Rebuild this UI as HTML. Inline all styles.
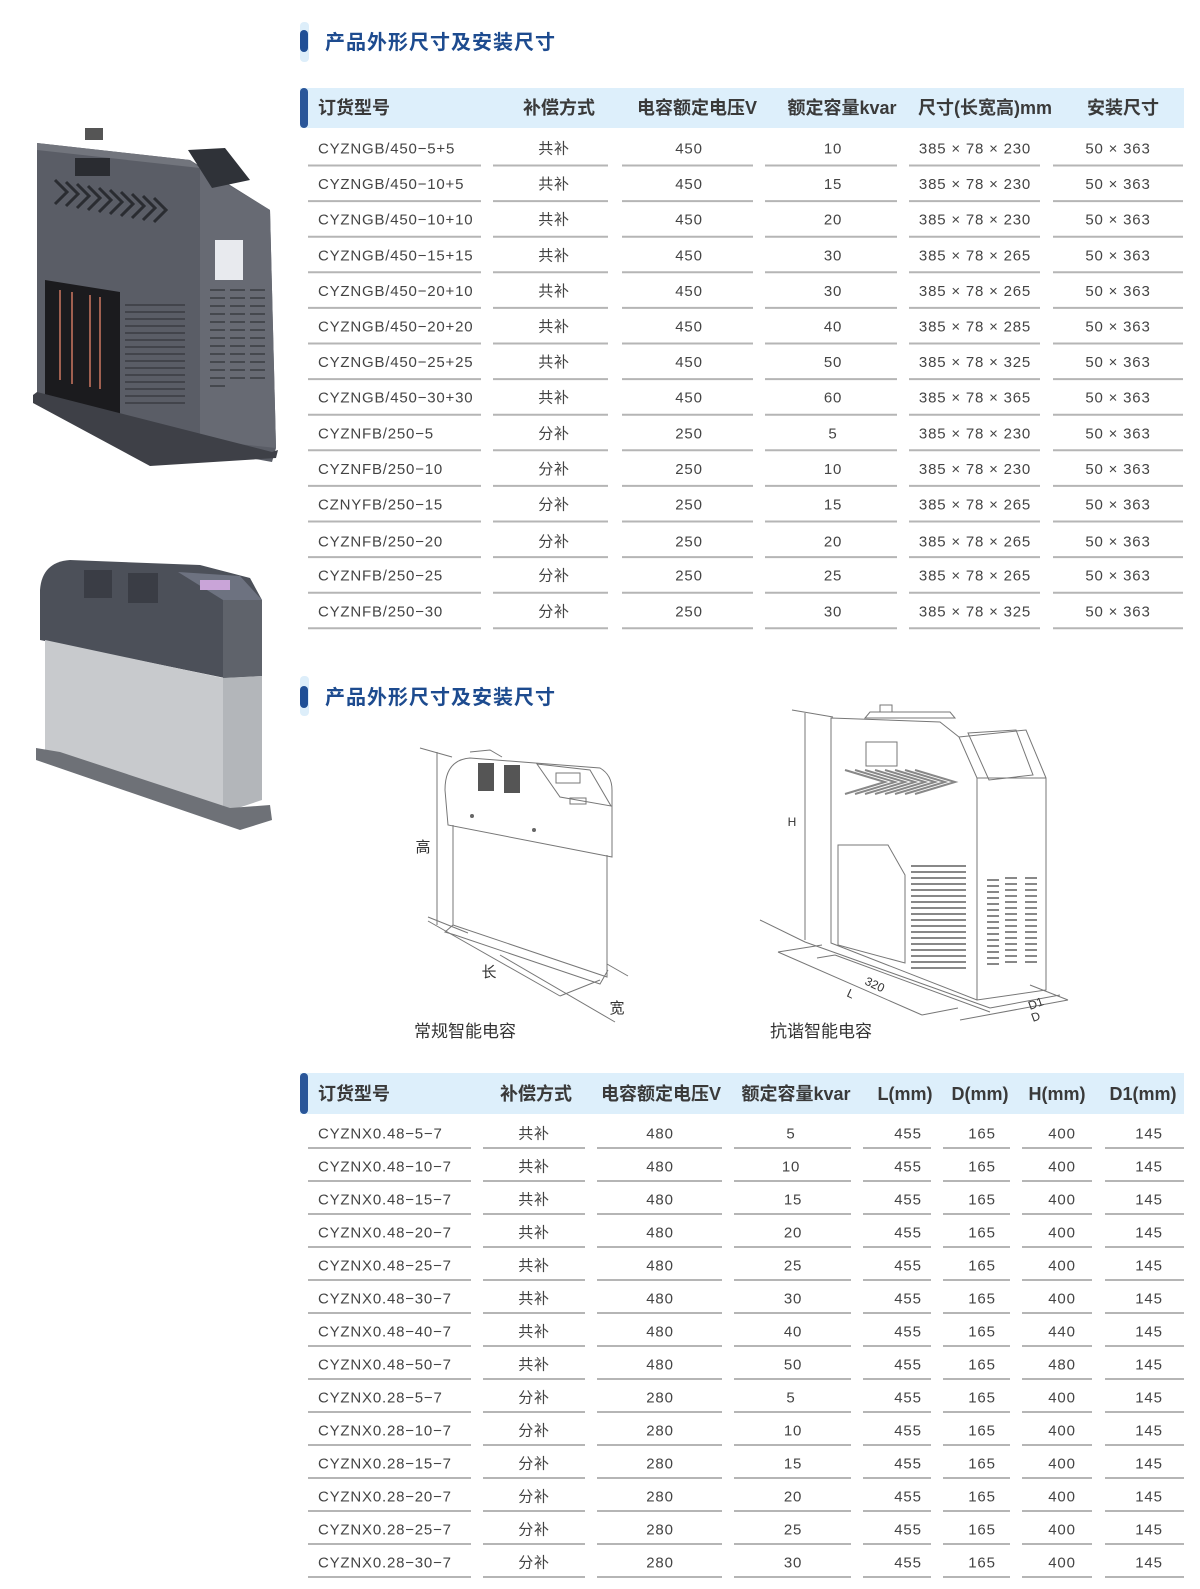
<!DOCTYPE html>
<html><head><meta charset="utf-8"><style>
html,body{margin:0;padding:0;background:#fff;}
svg{display:block}
text{font-family:"Liberation Sans","Noto Sans CJK SC",sans-serif;}
.h{font-size:18px;font-weight:bold;fill:#3a3a3a;}
.t{font-size:20px;font-weight:bold;fill:#1d4b8f;letter-spacing:1px}
.d{font-size:15px;fill:#444;letter-spacing:0.8px}
.c{text-anchor:middle}
.ln{stroke:#b5b5b5;stroke-width:2}
.dr{fill:none;stroke:#777;stroke-width:1}
.lb{font-size:15px;fill:#333}
</style></head><body>
<svg width="1200" height="1589" viewBox="0 0 1200 1589" xmlns="http://www.w3.org/2000/svg">
<rect x="300" y="22" width="9" height="40" rx="4" fill="#ddeefa"/>
<rect x="300" y="30" width="8" height="22" rx="4" fill="#1f4f96"/>
<text x="325" y="49" class="t">产品外形尺寸及安装尺寸</text>
<rect x="300" y="88" width="884" height="40" fill="#ddeffb"/>
<rect x="300" y="88" width="8" height="40" rx="4" fill="#2a5699"/>
<g class="h">
<text x="318" y="114">订货型号</text>
<text x="559" y="114" class="c">补偿方式</text>
<text x="697" y="114" class="c">电容额定电压V</text>
<text x="842" y="114" class="c">额定容量kvar</text>
<text x="985" y="114" class="c">尺寸(长宽高)mm</text>
<text x="1123" y="114" class="c">安装尺寸</text>
</g>
<g class="d">
<g transform="translate(0,148)"><text x="318" y="5.5">CYZNGB/450−5+5</text><text x="554" y="5.5" class="c">共补</text><text x="689" y="5.5" class="c">450</text><text x="833" y="5.5" class="c">10</text><text x="975" y="5.5" class="c">385 × 78 × 230</text><text x="1118" y="5.5" class="c">50 × 363</text></g>
<g transform="translate(0,183.6)"><text x="318" y="5.5">CYZNGB/450−10+5</text><text x="554" y="5.5" class="c">共补</text><text x="689" y="5.5" class="c">450</text><text x="833" y="5.5" class="c">15</text><text x="975" y="5.5" class="c">385 × 78 × 230</text><text x="1118" y="5.5" class="c">50 × 363</text></g>
<g transform="translate(0,219.2)"><text x="318" y="5.5">CYZNGB/450−10+10</text><text x="554" y="5.5" class="c">共补</text><text x="689" y="5.5" class="c">450</text><text x="833" y="5.5" class="c">20</text><text x="975" y="5.5" class="c">385 × 78 × 230</text><text x="1118" y="5.5" class="c">50 × 363</text></g>
<g transform="translate(0,254.8)"><text x="318" y="5.5">CYZNGB/450−15+15</text><text x="554" y="5.5" class="c">共补</text><text x="689" y="5.5" class="c">450</text><text x="833" y="5.5" class="c">30</text><text x="975" y="5.5" class="c">385 × 78 × 265</text><text x="1118" y="5.5" class="c">50 × 363</text></g>
<g transform="translate(0,290.4)"><text x="318" y="5.5">CYZNGB/450−20+10</text><text x="554" y="5.5" class="c">共补</text><text x="689" y="5.5" class="c">450</text><text x="833" y="5.5" class="c">30</text><text x="975" y="5.5" class="c">385 × 78 × 265</text><text x="1118" y="5.5" class="c">50 × 363</text></g>
<g transform="translate(0,326)"><text x="318" y="5.5">CYZNGB/450−20+20</text><text x="554" y="5.5" class="c">共补</text><text x="689" y="5.5" class="c">450</text><text x="833" y="5.5" class="c">40</text><text x="975" y="5.5" class="c">385 × 78 × 285</text><text x="1118" y="5.5" class="c">50 × 363</text></g>
<g transform="translate(0,361.6)"><text x="318" y="5.5">CYZNGB/450−25+25</text><text x="554" y="5.5" class="c">共补</text><text x="689" y="5.5" class="c">450</text><text x="833" y="5.5" class="c">50</text><text x="975" y="5.5" class="c">385 × 78 × 325</text><text x="1118" y="5.5" class="c">50 × 363</text></g>
<g transform="translate(0,397.2)"><text x="318" y="5.5">CYZNGB/450−30+30</text><text x="554" y="5.5" class="c">共补</text><text x="689" y="5.5" class="c">450</text><text x="833" y="5.5" class="c">60</text><text x="975" y="5.5" class="c">385 × 78 × 365</text><text x="1118" y="5.5" class="c">50 × 363</text></g>
<g transform="translate(0,432.8)"><text x="318" y="5.5">CYZNFB/250−5</text><text x="554" y="5.5" class="c">分补</text><text x="689" y="5.5" class="c">250</text><text x="833" y="5.5" class="c">5</text><text x="975" y="5.5" class="c">385 × 78 × 230</text><text x="1118" y="5.5" class="c">50 × 363</text></g>
<g transform="translate(0,468.4)"><text x="318" y="5.5">CYZNFB/250−10</text><text x="554" y="5.5" class="c">分补</text><text x="689" y="5.5" class="c">250</text><text x="833" y="5.5" class="c">10</text><text x="975" y="5.5" class="c">385 × 78 × 230</text><text x="1118" y="5.5" class="c">50 × 363</text></g>
<g transform="translate(0,504)"><text x="318" y="5.5">CZNYFB/250−15</text><text x="554" y="5.5" class="c">分补</text><text x="689" y="5.5" class="c">250</text><text x="833" y="5.5" class="c">15</text><text x="975" y="5.5" class="c">385 × 78 × 265</text><text x="1118" y="5.5" class="c">50 × 363</text></g>
<g transform="translate(0,541)"><text x="318" y="5.5">CYZNFB/250−20</text><text x="554" y="5.5" class="c">分补</text><text x="689" y="5.5" class="c">250</text><text x="833" y="5.5" class="c">20</text><text x="975" y="5.5" class="c">385 × 78 × 265</text><text x="1118" y="5.5" class="c">50 × 363</text></g>
<g transform="translate(0,575.2)"><text x="318" y="5.5">CYZNFB/250−25</text><text x="554" y="5.5" class="c">分补</text><text x="689" y="5.5" class="c">250</text><text x="833" y="5.5" class="c">25</text><text x="975" y="5.5" class="c">385 × 78 × 265</text><text x="1118" y="5.5" class="c">50 × 363</text></g>
<g transform="translate(0,610.8)"><text x="318" y="5.5">CYZNFB/250−30</text><text x="554" y="5.5" class="c">分补</text><text x="689" y="5.5" class="c">250</text><text x="833" y="5.5" class="c">30</text><text x="975" y="5.5" class="c">385 × 78 × 325</text><text x="1118" y="5.5" class="c">50 × 363</text></g>
</g>
<g>
<path class="ln" d="M308 0H481M493 0H608M622 0H753M765 0H897M909 0H1040M1053 0H1183" transform="translate(0,165.5)"/>
<path class="ln" d="M308 0H481M493 0H608M622 0H753M765 0H897M909 0H1040M1053 0H1183" transform="translate(0,201.1)"/>
<path class="ln" d="M308 0H481M493 0H608M622 0H753M765 0H897M909 0H1040M1053 0H1183" transform="translate(0,236.7)"/>
<path class="ln" d="M308 0H481M493 0H608M622 0H753M765 0H897M909 0H1040M1053 0H1183" transform="translate(0,272.3)"/>
<path class="ln" d="M308 0H481M493 0H608M622 0H753M765 0H897M909 0H1040M1053 0H1183" transform="translate(0,307.9)"/>
<path class="ln" d="M308 0H481M493 0H608M622 0H753M765 0H897M909 0H1040M1053 0H1183" transform="translate(0,343.5)"/>
<path class="ln" d="M308 0H481M493 0H608M622 0H753M765 0H897M909 0H1040M1053 0H1183" transform="translate(0,379.1)"/>
<path class="ln" d="M308 0H481M493 0H608M622 0H753M765 0H897M909 0H1040M1053 0H1183" transform="translate(0,414.7)"/>
<path class="ln" d="M308 0H481M493 0H608M622 0H753M765 0H897M909 0H1040M1053 0H1183" transform="translate(0,450.3)"/>
<path class="ln" d="M308 0H481M493 0H608M622 0H753M765 0H897M909 0H1040M1053 0H1183" transform="translate(0,485.9)"/>
<path class="ln" d="M308 0H481M493 0H608M622 0H753M765 0H897M909 0H1040M1053 0H1183" transform="translate(0,521.5)"/>
<path class="ln" d="M308 0H481M493 0H608M622 0H753M765 0H897M909 0H1040M1053 0H1183" transform="translate(0,557.1)"/>
<path class="ln" d="M308 0H481M493 0H608M622 0H753M765 0H897M909 0H1040M1053 0H1183" transform="translate(0,592.7)"/>
<path class="ln" d="M308 0H481M493 0H608M622 0H753M765 0H897M909 0H1040M1053 0H1183" transform="translate(0,628.3)"/>
</g>

<rect x="300" y="676" width="9" height="40" rx="4" fill="#ddeefa"/>
<rect x="300" y="686" width="8" height="22" rx="4" fill="#1f4f96"/>
<text x="325" y="704" class="t">产品外形尺寸及安装尺寸</text>

<!-- Product photo 1 -->
<g>
<rect x="85" y="128" width="18" height="12" fill="#555"/>
<polygon points="37,143 190,160 270,210 276,448 272,462 150,440 37,400" fill="#5a5d66"/>
<polygon points="200,168 270,210 276,448 200,440" fill="#676a73"/>
<polygon points="37,143 190,160 200,168 37,150" fill="#72757d"/>
<polygon points="188,150 225,148 250,180 212,188" fill="#2f3238"/>
<rect x="75" y="158" width="35" height="18" fill="#2a2c31"/>
<g stroke="#2a2c31" stroke-width="3" fill="none">
<path d="M55 180l12 12-12 12M66 182l12 12-12 12M77 184l12 12-12 12M88 186l12 12-12 12M99 188l12 12-12 12M110 190l12 12-12 12M121 192l12 12-12 12M132 194l12 12-12 12M143 196l12 12-12 12M154 198l12 12-12 12"/>
</g>
<rect x="215" y="240" width="28" height="40" fill="#e8eaee"/>
<polygon points="45,280 120,292 120,420 45,395" fill="#1b1b1e"/>
<g stroke="#a06050" stroke-width="2"><path d="M60 290v90M72 292v92M90 295v92M100 297v92"/></g>
<g stroke="#3a3c42" stroke-width="1.5"><path d="M125 305h60M125 312h60M125 319h60M125 326h60M125 333h60M125 340h60M125 347h60M125 354h60M125 361h60M125 368h60M125 375h60M125 382h60M125 389h60M125 396h60M125 403h60"/><path d="M210 290h15M210 298h15M210 306h15M210 314h15M210 322h15M210 330h15M210 338h15M210 346h15M210 354h15M210 362h15M210 370h15M210 378h15M210 386h15M230 290h15M230 298h15M230 306h15M230 314h15M230 322h15M230 330h15M230 338h15M230 346h15M230 354h15M230 362h15M230 370h15M230 378h15M250 290h15M250 298h15M250 306h15M250 314h15M250 322h15M250 330h15M250 338h15M250 346h15M250 354h15M250 362h15M250 370h15M250 378h15"/></g>
<polygon points="33,395 37,392 272,452 278,450 276,458 150,466 33,403" fill="#3e4047"/>
</g>

<!-- Product photo 2 -->
<g>
<path d="M40 590 Q42 562 70 560 L200 565 L250 578 L262 600 L262 676 L225 678 L40 640Z" fill="#4c5059"/>
<polygon points="223,600 262,600 262,676 223,678" fill="#5f636b"/>
<polygon points="178,572 240,576 262,600 223,600" fill="#6d7280"/>
<rect x="200" y="580" width="30" height="10" fill="#c9a4d8"/>
<polygon points="45,640 223,678 223,813 45,757" fill="#c8cacd"/>
<polygon points="223,678 262,676 262,800 223,813" fill="#b3b6ba"/>
<rect x="84" y="570" width="28" height="28" fill="#3a3d45"/>
<rect x="128" y="573" width="30" height="30" fill="#3a3d45"/>
<polygon points="36,748 60,752 230,808 270,805 272,820 240,830 205,818 36,760" fill="#6e7177"/>
</g>

<!-- Left drawing -->
<g class="dr">
<path d="M420 748 L452 757"/>
<path d="M437 752 V925"/>
<path d="M428 917 L468 933 M428 921 L560 996 M500 955 L615 1022 M560 996 L600 980 M607 964 L628 976"/>
<path d="M445 790 Q445 760 470 758 L600 768 Q612 775 612 790 V857 L448 825 Z"/>
<path d="M453 825 V925 L607 977 V855"/>
<path d="M453 925 L445 932 L455 935 L600 984 L608 970"/>
<path d="M537 764 L590 770 L611 806 L560 797 Z"/>
<rect x="556" y="773" width="24" height="10"/>
<rect x="570" y="798" width="16" height="6"/>
<path d="M470 752 L490 750 L502 757"/>
</g>
<g fill="#555"><rect x="478" y="763" width="16" height="28"/><rect x="504" y="765" width="16" height="28"/></g>
<circle cx="472" cy="816" r="2" fill="#666"/><circle cx="534" cy="830" r="2" fill="#666"/>
<text x="423" y="852" class="lb" text-anchor="middle">高</text>
<text x="489" y="977" class="lb" text-anchor="middle">长</text>
<text x="617" y="1013" class="lb" text-anchor="middle">宽</text>
<text x="414" y="1037" font-size="17" fill="#333">常规智能电容</text>

<!-- Right drawing -->
<g class="dr">
<path d="M792 710 L833 717 M805 713 V940"/>
<path d="M831 718 L940 722 L959 737 L1026 730 L1046 778 V990 L977 1000 L831 943 Z"/>
<path d="M959 737 L977 778 V1000 M977 778 L1046 778"/>
<path d="M870 712 L950 712 L955 718 L865 718 Z M880 705 h12 v7 h-12z"/>
<rect x="866" y="742" width="31" height="24"/>
<path d="M968 733 L1016 730 L1033 775 L989 780 Z"/>
<path d="M838 845 L888 845 L905 875 V963 L838 945 Z"/>
<path d="M778 952 L822 945 M778 952 L922 1015 M817 958 L835 955 M835 955 L990 1012 M922 1015 L958 1008"/>
<path d="M760 920 L805 942 L990 1008 M990 1008 L1060 995 M960 1020 L1068 1000 M1030 985 L1068 1000"/>
</g>
<g stroke="#888" stroke-width="2" fill="none">
<path d="M845 770l40 12-40 12M855 770l40 12-40 12M865 770l40 12-40 12M875 770l40 12-40 12M885 770l40 12-40 12M895 770l40 12-40 12M905 770l40 12-40 12M915 770l40 12-40 12"/>
</g>
<g stroke="#888" stroke-width="2">
<path d="M911 866h55M911 872h55M911 878h55M911 884h55M911 890h55M911 896h55M911 902h55M911 908h55M911 914h55M911 920h55M911 926h55M911 932h55M911 938h55M911 944h55M911 950h55M911 956h55M911 962h55M911 968h55"/>
<path d="M987 880h12M987 886h12M987 892h12M987 898h12M987 904h12M987 910h12M987 916h12M987 922h12M987 928h12M987 934h12M987 940h12M987 946h12M987 952h12M987 958h12M987 964h12M1005 878h12M1005 884h12M1005 890h12M1005 896h12M1005 902h12M1005 908h12M1005 914h12M1005 920h12M1005 926h12M1005 932h12M1005 938h12M1005 944h12M1005 950h12M1005 956h12M1005 962h12M1025 878h12M1025 884h12M1025 890h12M1025 896h12M1025 902h12M1025 908h12M1025 914h12M1025 920h12M1025 926h12M1025 932h12M1025 938h12M1025 944h12M1025 950h12M1025 956h12M1025 962h12"/>
</g>
<text x="792" y="826" font-size="12" fill="#333" text-anchor="middle">H</text>
<text x="864" y="984" font-size="12" fill="#333" transform="rotate(25 864 984)">320</text>
<text x="846" y="996" font-size="12" fill="#333" transform="rotate(25 846 996)">L</text>
<text x="1030" y="1010" font-size="12" fill="#333" transform="rotate(-20 1030 1010)">D1</text>
<text x="1033" y="1022" font-size="12" fill="#333" transform="rotate(-20 1033 1022)">D</text>
<text x="770" y="1037" font-size="17" fill="#333">抗谐智能电容</text>

<!-- Table 2 -->
<rect x="300" y="1073" width="884" height="41" fill="#ddeffb"/>
<rect x="300" y="1073" width="8" height="41" rx="4" fill="#2a5699"/>
<g class="h">
<text x="318" y="1100">订货型号</text>
<text x="536" y="1100" class="c">补偿方式</text>
<text x="661" y="1100" class="c">电容额定电压V</text>
<text x="796" y="1100" class="c">额定容量kvar</text>
<text x="905" y="1100" class="c">L(mm)</text>
<text x="980" y="1100" class="c">D(mm)</text>
<text x="1057" y="1100" class="c">H(mm)</text>
<text x="1143" y="1100" class="c">D1(mm)</text>
</g>
<g class="d">
<g transform="translate(0,1133)"><text x="318" y="5.5">CYZNX0.48−5−7</text><text x="534" y="5.5" class="c">共补</text><text x="660" y="5.5" class="c">480</text><text x="791" y="5.5" class="c">5</text><text x="908" y="5.5" class="c">455</text><text x="982" y="5.5" class="c">165</text><text x="1062" y="5.5" class="c">400</text><text x="1149" y="5.5" class="c">145</text></g>
<g transform="translate(0,1166)"><text x="318" y="5.5">CYZNX0.48−10−7</text><text x="534" y="5.5" class="c">共补</text><text x="660" y="5.5" class="c">480</text><text x="791" y="5.5" class="c">10</text><text x="908" y="5.5" class="c">455</text><text x="982" y="5.5" class="c">165</text><text x="1062" y="5.5" class="c">400</text><text x="1149" y="5.5" class="c">145</text></g>
<g transform="translate(0,1199)"><text x="318" y="5.5">CYZNX0.48−15−7</text><text x="534" y="5.5" class="c">共补</text><text x="660" y="5.5" class="c">480</text><text x="793" y="5.5" class="c">15</text><text x="908" y="5.5" class="c">455</text><text x="982" y="5.5" class="c">165</text><text x="1062" y="5.5" class="c">400</text><text x="1149" y="5.5" class="c">145</text></g>
<g transform="translate(0,1232)"><text x="318" y="5.5">CYZNX0.48−20−7</text><text x="534" y="5.5" class="c">共补</text><text x="660" y="5.5" class="c">480</text><text x="793" y="5.5" class="c">20</text><text x="908" y="5.5" class="c">455</text><text x="982" y="5.5" class="c">165</text><text x="1062" y="5.5" class="c">400</text><text x="1149" y="5.5" class="c">145</text></g>
<g transform="translate(0,1265)"><text x="318" y="5.5">CYZNX0.48−25−7</text><text x="534" y="5.5" class="c">共补</text><text x="660" y="5.5" class="c">480</text><text x="793" y="5.5" class="c">25</text><text x="908" y="5.5" class="c">455</text><text x="982" y="5.5" class="c">165</text><text x="1062" y="5.5" class="c">400</text><text x="1149" y="5.5" class="c">145</text></g>
<g transform="translate(0,1298)"><text x="318" y="5.5">CYZNX0.48−30−7</text><text x="534" y="5.5" class="c">共补</text><text x="660" y="5.5" class="c">480</text><text x="793" y="5.5" class="c">30</text><text x="908" y="5.5" class="c">455</text><text x="982" y="5.5" class="c">165</text><text x="1062" y="5.5" class="c">400</text><text x="1149" y="5.5" class="c">145</text></g>
<g transform="translate(0,1331)"><text x="318" y="5.5">CYZNX0.48−40−7</text><text x="534" y="5.5" class="c">共补</text><text x="660" y="5.5" class="c">480</text><text x="793" y="5.5" class="c">40</text><text x="908" y="5.5" class="c">455</text><text x="982" y="5.5" class="c">165</text><text x="1062" y="5.5" class="c">440</text><text x="1149" y="5.5" class="c">145</text></g>
<g transform="translate(0,1364)"><text x="318" y="5.5">CYZNX0.48−50−7</text><text x="534" y="5.5" class="c">共补</text><text x="660" y="5.5" class="c">480</text><text x="793" y="5.5" class="c">50</text><text x="908" y="5.5" class="c">455</text><text x="982" y="5.5" class="c">165</text><text x="1062" y="5.5" class="c">480</text><text x="1149" y="5.5" class="c">145</text></g>
<g transform="translate(0,1397)"><text x="318" y="5.5">CYZNX0.28−5−7</text><text x="534" y="5.5" class="c">分补</text><text x="660" y="5.5" class="c">280</text><text x="791" y="5.5" class="c">5</text><text x="908" y="5.5" class="c">455</text><text x="982" y="5.5" class="c">165</text><text x="1062" y="5.5" class="c">400</text><text x="1149" y="5.5" class="c">145</text></g>
<g transform="translate(0,1430)"><text x="318" y="5.5">CYZNX0.28−10−7</text><text x="534" y="5.5" class="c">分补</text><text x="660" y="5.5" class="c">280</text><text x="793" y="5.5" class="c">10</text><text x="908" y="5.5" class="c">455</text><text x="982" y="5.5" class="c">165</text><text x="1062" y="5.5" class="c">400</text><text x="1149" y="5.5" class="c">145</text></g>
<g transform="translate(0,1463)"><text x="318" y="5.5">CYZNX0.28−15−7</text><text x="534" y="5.5" class="c">分补</text><text x="660" y="5.5" class="c">280</text><text x="793" y="5.5" class="c">15</text><text x="908" y="5.5" class="c">455</text><text x="982" y="5.5" class="c">165</text><text x="1062" y="5.5" class="c">400</text><text x="1149" y="5.5" class="c">145</text></g>
<g transform="translate(0,1496)"><text x="318" y="5.5">CYZNX0.28−20−7</text><text x="534" y="5.5" class="c">分补</text><text x="660" y="5.5" class="c">280</text><text x="793" y="5.5" class="c">20</text><text x="908" y="5.5" class="c">455</text><text x="982" y="5.5" class="c">165</text><text x="1062" y="5.5" class="c">400</text><text x="1149" y="5.5" class="c">145</text></g>
<g transform="translate(0,1529)"><text x="318" y="5.5">CYZNX0.28−25−7</text><text x="534" y="5.5" class="c">分补</text><text x="660" y="5.5" class="c">280</text><text x="793" y="5.5" class="c">25</text><text x="908" y="5.5" class="c">455</text><text x="982" y="5.5" class="c">165</text><text x="1062" y="5.5" class="c">400</text><text x="1149" y="5.5" class="c">145</text></g>
<g transform="translate(0,1562)"><text x="318" y="5.5">CYZNX0.28−30−7</text><text x="534" y="5.5" class="c">分补</text><text x="660" y="5.5" class="c">280</text><text x="793" y="5.5" class="c">30</text><text x="908" y="5.5" class="c">455</text><text x="982" y="5.5" class="c">165</text><text x="1062" y="5.5" class="c">400</text><text x="1149" y="5.5" class="c">145</text></g>
</g>
<g>
<path class="ln" d="M308 1148H471M483 1148H585M597 1148H722M734 1148H851M863 1148H931M943 1148H1010M1022 1148H1092M1105 1148H1184"/>
<path class="ln" d="M308 1181H471M483 1181H585M597 1181H722M734 1181H851M863 1181H931M943 1181H1010M1022 1181H1092M1105 1181H1184"/>
<path class="ln" d="M308 1214H471M483 1214H585M597 1214H722M734 1214H851M863 1214H931M943 1214H1010M1022 1214H1092M1105 1214H1184"/>
<path class="ln" d="M308 1247H471M483 1247H585M597 1247H722M734 1247H851M863 1247H931M943 1247H1010M1022 1247H1092M1105 1247H1184"/>
<path class="ln" d="M308 1280H471M483 1280H585M597 1280H722M734 1280H851M863 1280H931M943 1280H1010M1022 1280H1092M1105 1280H1184"/>
<path class="ln" d="M308 1313H471M483 1313H585M597 1313H722M734 1313H851M863 1313H931M943 1313H1010M1022 1313H1092M1105 1313H1184"/>
<path class="ln" d="M308 1346H471M483 1346H585M597 1346H722M734 1346H851M863 1346H931M943 1346H1010M1022 1346H1092M1105 1346H1184"/>
<path class="ln" d="M308 1379H471M483 1379H585M597 1379H722M734 1379H851M863 1379H931M943 1379H1010M1022 1379H1092M1105 1379H1184"/>
<path class="ln" d="M308 1412H471M483 1412H585M597 1412H722M734 1412H851M863 1412H931M943 1412H1010M1022 1412H1092M1105 1412H1184"/>
<path class="ln" d="M308 1445H471M483 1445H585M597 1445H722M734 1445H851M863 1445H931M943 1445H1010M1022 1445H1092M1105 1445H1184"/>
<path class="ln" d="M308 1478H471M483 1478H585M597 1478H722M734 1478H851M863 1478H931M943 1478H1010M1022 1478H1092M1105 1478H1184"/>
<path class="ln" d="M308 1511H471M483 1511H585M597 1511H722M734 1511H851M863 1511H931M943 1511H1010M1022 1511H1092M1105 1511H1184"/>
<path class="ln" d="M308 1544H471M483 1544H585M597 1544H722M734 1544H851M863 1544H931M943 1544H1010M1022 1544H1092M1105 1544H1184"/>
<path class="ln" d="M308 1577H471M483 1577H585M597 1577H722M734 1577H851M863 1577H931M943 1577H1010M1022 1577H1092M1105 1577H1184"/>
</g>
</svg>
</body></html>
